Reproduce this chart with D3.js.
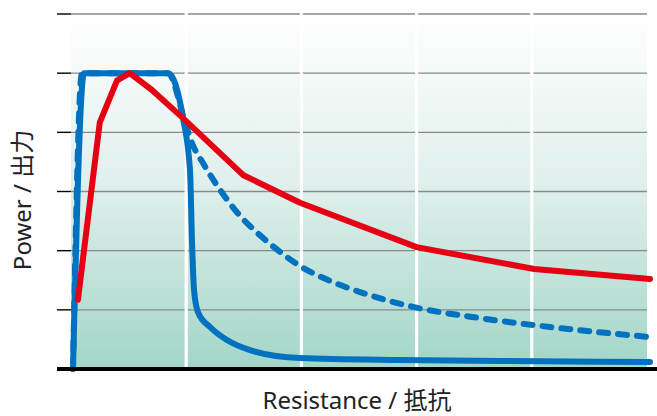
<!DOCTYPE html>
<html>
<head>
<meta charset="utf-8">
<script src="https://cdn.jsdelivr.net/npm/d3@7"></script>
<style>
body { margin: 0; background: #fff; }
svg { display: block; }
</style>
</head>
<body>
<svg width="657" height="416"></svg>
<script>
// values in grid units: x = columns (0..5), y = rows (0..6)
var solidX = [0.017, 0.113, 0.842, 0.972, 1.033, 1.05, 1.068, 1.102, 1.207, 1.354, 1.554, 1.988, 2.856, 3.724, 5.026];
var solidY = [0, 5.0, 5.0, 4.24, 3.36, 2.18, 1.335, 0.963, 0.71, 0.49, 0.32, 0.186, 0.152, 0.135, 0.118];

var dashX = [0.017, 0.095, 0.842, 0.99, 1.05, 1.146, 1.293, 1.467, 1.641, 1.814, 1.988, 2.248, 2.509, 2.969, 3.55, 4.158, 5.026];
var dashY = [0, 5.0, 5.0, 4.17, 3.82, 3.48, 3.03, 2.59, 2.26, 1.98, 1.74, 1.49, 1.30, 1.05, 0.86, 0.71, 0.54];

var redX = [0.06, 0.25, 0.4, 0.51, 0.70, 0.972, 1.493, 1.988, 3.0, 4.02, 5.026];
var redY = [1.17, 4.17, 4.88, 5.0, 4.72, 4.24, 3.28, 2.81, 2.06, 1.69, 1.52];

var yTicks = [1, 2, 3, 4, 5, 6];
var xCols = [1, 2, 3, 4];

var xLabel = "Resistance / 抵抗";
var yLabel = "Power / 出力";

var svg = d3.select("svg");

var x = d3.scaleLinear().domain([0, 5]).range([71, 647]);
var y = d3.scaleLinear().domain([0, 6]).range([369, 14]);

var defs = svg.append("defs");
var grad = defs.append("linearGradient")
    .attr("id", "bg")
    .attr("x1", 0).attr("y1", 0)
    .attr("x2", 0).attr("y2", 1);
grad.append("stop").attr("offset", "0%").attr("stop-color", "#ffffff");
grad.append("stop").attr("offset", "50%").attr("stop-color", "#deefeb");
grad.append("stop").attr("offset", "100%").attr("stop-color", "#a2d5c8");

svg.append("rect")
    .attr("x", x(0))
    .attr("y", y(6))
    .attr("width", x(5) - x(0))
    .attr("height", y(0) - y(6))
    .style("fill", "url(#bg)");

// horizontal grid
svg.selectAll(".grid")
    .data(yTicks)
    .enter().append("line")
    .attr("class", "grid")
    .attr("x1", x(0))
    .attr("x2", x(5))
    .attr("y1", function(d) { return y(d); })
    .attr("y2", function(d) { return y(d); })
    .style("stroke", "#8a8a8a")
    .style("stroke-width", 1.4);

// left tick marks
svg.selectAll(".tick")
    .data(yTicks)
    .enter().append("line")
    .attr("class", "tick")
    .attr("x1", 57)
    .attr("x2", x(0))
    .attr("y1", function(d) { return y(d); })
    .attr("y2", function(d) { return y(d); })
    .style("stroke", "#000")
    .style("stroke-width", 1.4);

// white column separators
svg.selectAll(".col")
    .data(xCols)
    .enter().append("line")
    .attr("class", "col")
    .attr("x1", function(d) { return x(d); })
    .attr("x2", function(d) { return x(d); })
    .attr("y1", y(6) - 2)
    .attr("y2", y(0))
    .style("stroke", "#fff")
    .style("stroke-width", 3.2);

function pts(xs, ys) {
    return xs.map(function(d, i) { return [d, ys[i]]; });
}

var line = d3.line()
    .x(function(d) { return x(d[0]); })
    .y(function(d) { return y(d[1]); })
    .curve(d3.curveMonotoneX);

var lineStraight = d3.line()
    .x(function(d) { return x(d[0]); })
    .y(function(d) { return y(d[1]); });

svg.append("path")
    .attr("d", line(pts(dashX, dashY)))
    .style("fill", "none")
    .style("stroke", "#0072bf")
    .style("stroke-width", 6)
    .style("stroke-linecap", "round")
    .style("stroke-linejoin", "round")
    .style("stroke-dasharray", "9,10");

svg.append("path")
    .attr("d", line(pts(solidX, solidY)))
    .style("fill", "none")
    .style("stroke", "#0072bf")
    .style("stroke-width", 6)
    .style("stroke-linecap", "round")
    .style("stroke-linejoin", "round");

svg.append("path")
    .attr("d", lineStraight(pts(redX, redY)))
    .style("fill", "none")
    .style("stroke", "#e60013")
    .style("stroke-width", 6)
    .style("stroke-linecap", "round")
    .style("stroke-linejoin", "round");

// x axis
svg.append("line")
    .attr("x1", 57)
    .attr("x2", 657)
    .attr("y1", y(0))
    .attr("y2", y(0))
    .style("stroke", "#000")
    .style("stroke-width", 4);

svg.append("text")
    .attr("x", 357)
    .attr("y", 409)
    .attr("text-anchor", "middle")
    .style("font-family", "'Noto Sans', 'Noto Sans CJK JP', sans-serif")
    .style("font-size", "24px")
    .style("fill", "#222")
    .text(xLabel);

svg.append("text")
    .attr("transform", "translate(31,200) rotate(-90)")
    .attr("text-anchor", "middle")
    .style("font-family", "'Noto Sans', 'Noto Sans CJK JP', sans-serif")
    .style("font-size", "24px")
    .style("fill", "#222")
    .text(yLabel);
</script>
</body>
</html>
